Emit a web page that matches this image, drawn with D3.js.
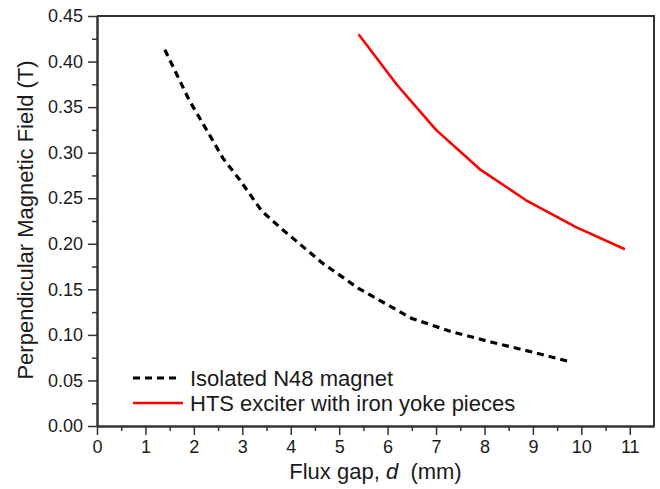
<!DOCTYPE html>
<html>
<head>
<meta charset="utf-8">
<script src="https://d3js.org/d3.v7.min.js"></script>
<style>
    body { margin: 0; background: #fff; }
    #chart-area { width: 660px; height: 489px; }
    text { font-family: "Liberation Sans", Arial, sans-serif; fill: #1a1a1a; }
    .axis path, .axis line { stroke: #333; }
</style>
</head>
<body>
<div id="chart-area"></div>
<script>
// values
let magnetGap = [1.4, 1.9, 2.35, 2.6, 2.95, 3.4, 3.8, 4.65, 5.4, 6.5, 7.35, 8.15, 9.0, 9.8];
let magnetField = [0.413, 0.358, 0.317, 0.294, 0.270, 0.236, 0.217, 0.179, 0.151, 0.118, 0.103, 0.092, 0.081, 0.070];

let excGap = [5.4, 6.2, 7.0, 7.9, 8.85, 9.9, 10.9];
let excField = [0.430, 0.374, 0.325, 0.282, 0.248, 0.218, 0.194];

let xTicks = [0, 1, 2, 3, 4, 5, 6, 7, 8, 9, 10, 11];
let yTicks = [0, 0.05, 0.10, 0.15, 0.20, 0.25, 0.30, 0.35, 0.40, 0.45];

let seriesNames = ["Isolated N48 magnet", "HTS exciter with iron yoke pieces"];

class FieldVis {

    constructor(parentElement) {
        this.parentElement = parentElement;
        this.initVis();
    }

    initVis() {
        let vis = this;

        vis.margin = {top: 16, right: 6, bottom: 63, left: 97};
        vis.width = 660 - vis.margin.left - vis.margin.right;
        vis.height = 489 - vis.margin.top - vis.margin.bottom;

        vis.svg = d3.select("#" + vis.parentElement).append("svg")
            .attr("width", 660)
            .attr("height", 489)
            .append("g")
            .attr("transform", "translate(" + vis.margin.left + "," + vis.margin.top + ")");

        vis.x = d3.scaleLinear().domain([0, 11.5]).range([0, vis.width]);
        vis.y = d3.scaleLinear().domain([0, 0.45]).range([vis.height, 0]);

        // minor ticks first, then the labelled ones
        let xMinor = d3.range(0.5, 11.5, 1);
        let yMinor = d3.range(0.025, 0.45, 0.05);

        vis.svg.append("g")
            .attr("class", "axis")
            .attr("transform", "translate(0," + vis.height + ")")
            .call(d3.axisBottom(vis.x).tickValues(xMinor).tickSize(5).tickSizeOuter(0).tickFormat(""))
            .selectAll("line").attr("stroke-width", 1.5);

        vis.svg.append("g")
            .attr("class", "axis")
            .call(d3.axisLeft(vis.y).tickValues(yMinor).tickSize(5).tickSizeOuter(0).tickFormat(""))
            .selectAll("line").attr("stroke-width", 1.5);

        vis.xAxis = vis.svg.append("g")
            .attr("class", "axis x-axis")
            .attr("transform", "translate(0," + vis.height + ")")
            .call(d3.axisBottom(vis.x).tickValues(xTicks).tickSize(9).tickSizeOuter(0).tickPadding(5).tickFormat(d3.format("d")));

        vis.yAxis = vis.svg.append("g")
            .attr("class", "axis y-axis")
            .call(d3.axisLeft(vis.y).tickValues(yTicks).tickSize(9).tickSizeOuter(0).tickPadding(5).tickFormat(d3.format(".2f")));

        vis.svg.selectAll(".axis path").attr("stroke-width", 2);
        vis.svg.selectAll(".x-axis line, .y-axis line").attr("stroke-width", 1.5);
        vis.svg.selectAll(".x-axis text, .y-axis text")
            .attr("font-size", 18)
            .style("fill", "#1a1a1a");

        // top and right frame
        vis.svg.append("path")
            .attr("d", "M0,0H" + vis.width + "V" + vis.height)
            .attr("fill", "none")
            .attr("stroke", "#333")
            .attr("stroke-width", 2);

        // axis titles
        let xTitle = vis.svg.append("text")
            .attr("x", vis.width / 2)
            .attr("y", vis.height + 53)
            .attr("text-anchor", "middle")
            .attr("font-size", 22);
        xTitle.append("tspan").text("Flux gap, ");
        xTitle.append("tspan").attr("font-style", "italic").text("d");
        xTitle.append("tspan").text("\u00a0 (mm)");

        vis.svg.append("text")
            .attr("transform", "translate(" + (33 - vis.margin.left) + "," + (vis.height / 2 - 1) + ") rotate(-90)")
            .attr("text-anchor", "middle")
            .attr("font-size", 22)
            .text("Perpendicular Magnetic Field (T)");

        vis.wrangleData();
    }

    wrangleData() {
        let vis = this;

        vis.displayData = [
            {name: seriesNames[0], color: "#000", dash: "7,5", width: 3.2,
                values: magnetGap.map((d, i) => ({x: d, y: magnetField[i]}))},
            {name: seriesNames[1], color: "#ff0000", dash: null, width: 2.6,
                values: excGap.map((d, i) => ({x: d, y: excField[i]}))}
        ];

        vis.updateVis();
    }

    updateVis() {
        let vis = this;

        let line = d3.line()
            .x(d => vis.x(d.x))
            .y(d => vis.y(d.y));

        vis.svg.selectAll(".series")
            .data(vis.displayData)
            .enter().append("path")
            .attr("class", "series")
            .attr("d", d => line(d.values))
            .attr("fill", "none")
            .attr("stroke", d => d.color)
            .attr("stroke-width", d => d.width)
            .attr("stroke-dasharray", d => d.dash)
            .attr("stroke-linejoin", "round");

        // legend
        let legend = vis.svg.selectAll(".legend-item")
            .data(vis.displayData)
            .enter().append("g")
            .attr("class", "legend-item")
            .attr("transform", (d, i) => "translate(" + (133 - vis.margin.left) + "," + (362 + i * 25) + ")");

        legend.append("line")
            .attr("x1", 0)
            .attr("x2", d => d.dash ? 47 : 50)
            .attr("y1", 0)
            .attr("y2", 0)
            .attr("stroke", d => d.color)
            .attr("stroke-width", d => d.width)
            .attr("stroke-dasharray", d => d.dash);

        legend.append("text")
            .attr("x", 57)
            .attr("y", 8)
            .attr("font-size", 22)
            .text(d => d.name);
    }
}

let fieldVis = new FieldVis("chart-area");
</script>
</body>
</html>
